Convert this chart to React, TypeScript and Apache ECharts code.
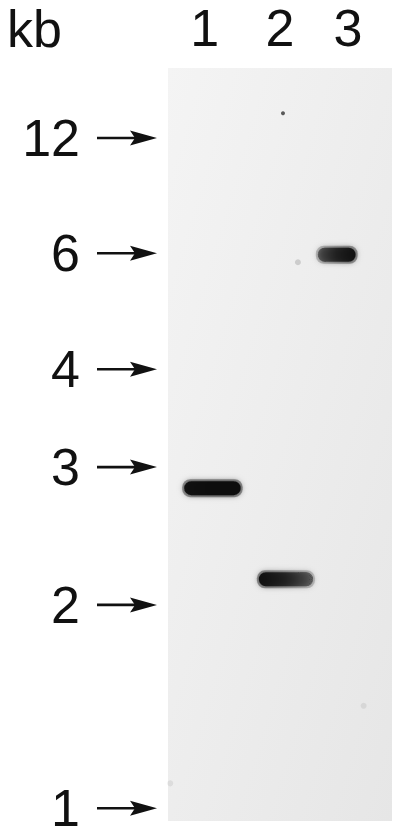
import { useEffect, useRef } from "react";
import * as echarts from "echarts";

// lanes across the blot (x in lane units, 0..3 over the membrane)
const LANES = ["1", "2", "3"];
const LANE_CENTRES = [0.49, 1.5, 2.41];

// size markers: label in kb and migration (% of membrane length from the top)
const MARKER_KB = ["12", "6", "4", "3", "2", "1"];
const MARKER_MIGRATION = [9.3, 24.6, 40.0, 53.0, 71.3, 98.3];

// hybridising bands
const BAND_START = [0.19, 1.19, 1.98];
const BAND_END = [1.0, 1.97, 2.54];
const BAND_MIGRATION = [55.8, 67.9, 24.8];
const BAND_DENSITY_LEFT = [0.95, 0.97, 0.5];
const BAND_DENSITY_RIGHT = [1.0, 0.45, 0.95];

// specks of background on the film: [x, migration, density]
const SPECKS = [
  [1.54, 6.0, 0.9],
  [1.74, 25.8, 0.2],
  [0.03, 95.0, 0.1],
  [2.62, 84.7, 0.1],
];

const FONT = "'Liberation Sans', Arial, Helvetica, sans-serif";
const INK = "#111111";
const LABEL_SIZE = 52;

export default function App() {
  const chartRef = useRef<HTMLDivElement>(null);

  useEffect(() => {
    if (!chartRef.current) return;
    document.body.style.margin = "0";
    const chart = echarts.init(chartRef.current, null, { renderer: "svg" });

    const bandData = BAND_START.map((s, i) => [
      s,
      BAND_END[i],
      BAND_MIGRATION[i],
      BAND_DENSITY_LEFT[i],
      BAND_DENSITY_RIGHT[i],
    ]);

    chart.setOption({
      animation: false,
      backgroundColor: "#ffffff",
      title: {
        text: "kb",
        left: 7,
        top: 7,
        padding: 0,
        textStyle: {
          fontFamily: FONT,
          fontSize: LABEL_SIZE,
          lineHeight: 44,
          fontWeight: "normal",
          color: INK,
        },
      },
      grid: {
        left: 168,
        top: 68,
        width: 224,
        height: 753,
        outerBoundsMode: "none",
        containLabel: false,
        show: true,
        borderWidth: 0,
        backgroundColor: new echarts.graphic.LinearGradient(0, 0, 1, 1, [
          { offset: 0, color: "#f4f4f4" },
          { offset: 1, color: "#e6e6e6" },
        ]),
      },
      xAxis: {
        type: "value",
        position: "top",
        min: 0,
        max: 3,
        axisLine: { show: false },
        axisTick: { show: false },
        splitLine: { show: false },
        axisLabel: {
          customValues: LANE_CENTRES,
          formatter: (v: number) => LANES[LANE_CENTRES.indexOf(v)] ?? "",
          margin: 18,
          fontFamily: FONT,
          fontSize: LABEL_SIZE,
          lineHeight: 44,
          color: INK,
        },
      },
      yAxis: {
        type: "value",
        inverse: true,
        min: 0,
        max: 100,
        axisLine: { show: false },
        axisTick: { show: false },
        splitLine: { show: false },
        axisLabel: {
          customValues: MARKER_MIGRATION,
          formatter: (v: number) => MARKER_KB[MARKER_MIGRATION.indexOf(v)] ?? "",
          margin: 88,
          fontFamily: FONT,
          fontSize: LABEL_SIZE,
          lineHeight: 44,
          color: INK,
        },
      },
      series: [
        {
          type: "custom",
          name: "bands",
          encode: { x: [0, 1], y: 2 },
          data: bandData,
          renderItem: (_p: any, api: any) => {
            const a = api.coord([api.value(0), api.value(2)]);
            const b = api.coord([api.value(1), api.value(2)]);
            const h = 16;
            const dl = api.value(3);
            const dr = api.value(4);
            const mid = Math.min(1, (dl + dr) / 2 + 0.05);
            const grad = (k: number) =>
              new echarts.graphic.LinearGradient(0, 0, 1, 0, [
                { offset: 0, color: `rgba(14,14,14,${dl * k})` },
                { offset: 0.5, color: `rgba(14,14,14,${mid * k})` },
                { offset: 1, color: `rgba(14,14,14,${dr * k})` },
              ]);
            return {
              type: "group",
              children: [
                {
                  type: "rect",
                  shape: { x: a[0], y: a[1] - h / 2 - 1, width: b[0] - a[0], height: h + 2, r: h / 2 },
                  style: { fill: grad(0.35), shadowBlur: 6, shadowColor: "rgba(14,14,14,0.3)" },
                },
                {
                  type: "rect",
                  shape: { x: a[0] + 2, y: a[1] - h / 2 + 1, width: b[0] - a[0] - 4, height: h - 2, r: h / 2 },
                  style: { fill: grad(1), shadowBlur: 5, shadowColor: "rgba(14,14,14,0.6)" },
                },
              ],
            };
          },
        },
        {
          type: "custom",
          name: "arrows",
          clip: false,
          data: MARKER_MIGRATION.map((m) => [0, m]),
          renderItem: (_p: any, api: any) => {
            const p = api.coord([0, api.value(1)]);
            const tip = p[0] - 11;
            const y = p[1];
            return {
              type: "group",
              children: [
                {
                  type: "line",
                  shape: { x1: p[0] - 71, y1: y, x2: tip - 20, y2: y },
                  style: { stroke: INK, lineWidth: 2.6 },
                },
                {
                  type: "polygon",
                  shape: {
                    points: [
                      [tip, y],
                      [tip - 27, y - 7.5],
                      [tip - 22, y],
                      [tip - 27, y + 7.5],
                    ],
                  },
                  style: { fill: INK },
                },
              ],
            };
          },
        },
        {
          type: "scatter",
          name: "specks",
          data: SPECKS,
          symbolSize: (v: number[]) => (v[2] > 0.5 ? 4 : 6),
          itemStyle: {
            color: (p: any) => `rgba(30,30,30,${p.data[2]})`,
          },
        },
      ],
    });

    return () => chart.dispose();
  }, []);

  return <div ref={chartRef} style={{ width: 400, height: 836 }} />;
}
